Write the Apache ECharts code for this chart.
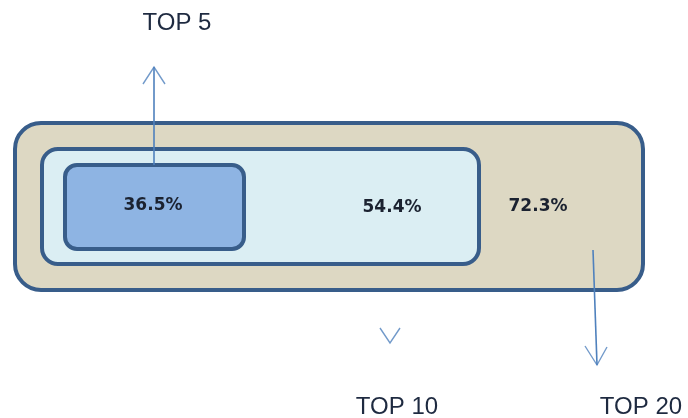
<!DOCTYPE html>
<html>
<head>
<meta charset="utf-8">
<title>Top customers share</title>
<script src="https://cdn.jsdelivr.net/npm/echarts@6/dist/echarts.min.js"></script>
<style>
  html, body { margin: 0; padding: 0; background: #ffffff; }
  #chart { width: 688px; height: 418px; }
</style>
</head>
<body>
<div id="chart"></div>
<script>
// Tiers and their cumulative shares
const tiers = ['TOP 5', 'TOP 10', 'TOP 20'];
const shares = [36.5, 54.4, 72.3];

// Layout of each tier, in the hidden axis space (0..688 x 0..418, y downward)
const layout = [
  { // TOP 5: innermost box, arrow pointing up to its title
    box: [65, 165, 244, 249], r: 12, fill: '#8EB4E3',
    value: [153, 206],
    title: [177, 23],
    shaft: [[154, 165], [154, 67]],
    head: [[143, 84], [154, 67], [165, 84]]
  },
  { // TOP 10: middle box, bare arrowhead above its title
    box: [42, 149, 479, 264], r: 16, fill: '#DBEEF3',
    value: [392, 208],
    title: [397, 407],
    shaft: null,
    head: [[380, 328], [390, 343], [400, 328]]
  },
  { // TOP 20: outer box, arrow pointing down to its title
    box: [15, 123, 643, 290], r: 26, fill: '#DDD8C3',
    value: [538, 207],
    title: [641, 407],
    shaft: [[593, 250], [597, 365]],
    head: [[585, 346], [597, 365], [607, 347]]
  }
];

const borderColor = '#385D8A';
const arrowColor = '#4F81BD';
const valueFont = 'bold 17px "DejaVu Sans"';
const titleFont = '24px "Liberation Sans"';

// outer box first so the inner ones sit on top
const drawOrder = [2, 1, 0];
const seriesData = drawOrder.map(i => [i, shares[i]]);

function renderItem(params, api) {
  const idx = api.value(0);
  const share = api.value(1);
  const L = layout[idx];
  const p = (x, y) => api.coord([x, y]);
  const tl = p(L.box[0], L.box[1]);
  const br = p(L.box[2], L.box[3]);
  const children = [
    {
      type: 'rect',
      shape: { x: tl[0], y: tl[1], width: br[0] - tl[0], height: br[1] - tl[1], r: L.r },
      style: { fill: L.fill, stroke: borderColor, lineWidth: 4 }
    }
  ];
  const vp = p(L.value[0], L.value[1]);
  children.push({
    type: 'text',
    style: {
      text: share.toFixed(1) + '%', x: vp[0], y: vp[1],
      fill: '#1b2230', font: valueFont, align: 'center', verticalAlign: 'middle'
    }
  });
  if (L.shaft) {
    children.push({
      type: 'polyline',
      shape: { points: L.shaft.map(q => p(q[0], q[1])) },
      style: { stroke: arrowColor, lineWidth: 1.6, fill: null }
    });
  }
  children.push({
    type: 'polyline',
    shape: { points: L.head.map(q => p(q[0], q[1])) },
    style: { stroke: arrowColor, lineWidth: 1.4, fill: null, opacity: 0.8 }
  });
  const tp = p(L.title[0], L.title[1]);
  children.push({
    type: 'text',
    style: {
      text: tiers[idx], x: tp[0], y: tp[1],
      fill: '#1e2a40', font: titleFont, align: 'center', verticalAlign: 'middle'
    }
  });
  return { type: 'group', children };
}

const chart = echarts.init(document.getElementById('chart'), null, { renderer: 'canvas' });
chart.setOption({
  animation: false,
  backgroundColor: '#ffffff',
  grid: { left: 0, right: 0, top: 0, bottom: 0 },
  xAxis: { type: 'value', min: 0, max: 688, show: false },
  yAxis: { type: 'value', min: 0, max: 418, inverse: true, show: false },
  series: [{
    type: 'custom',
    coordinateSystem: 'cartesian2d',
    renderItem: renderItem,
    encode: { x: 0, y: 1 },
    data: seriesData,
    clip: false
  }]
});
</script>
</body>
</html>
